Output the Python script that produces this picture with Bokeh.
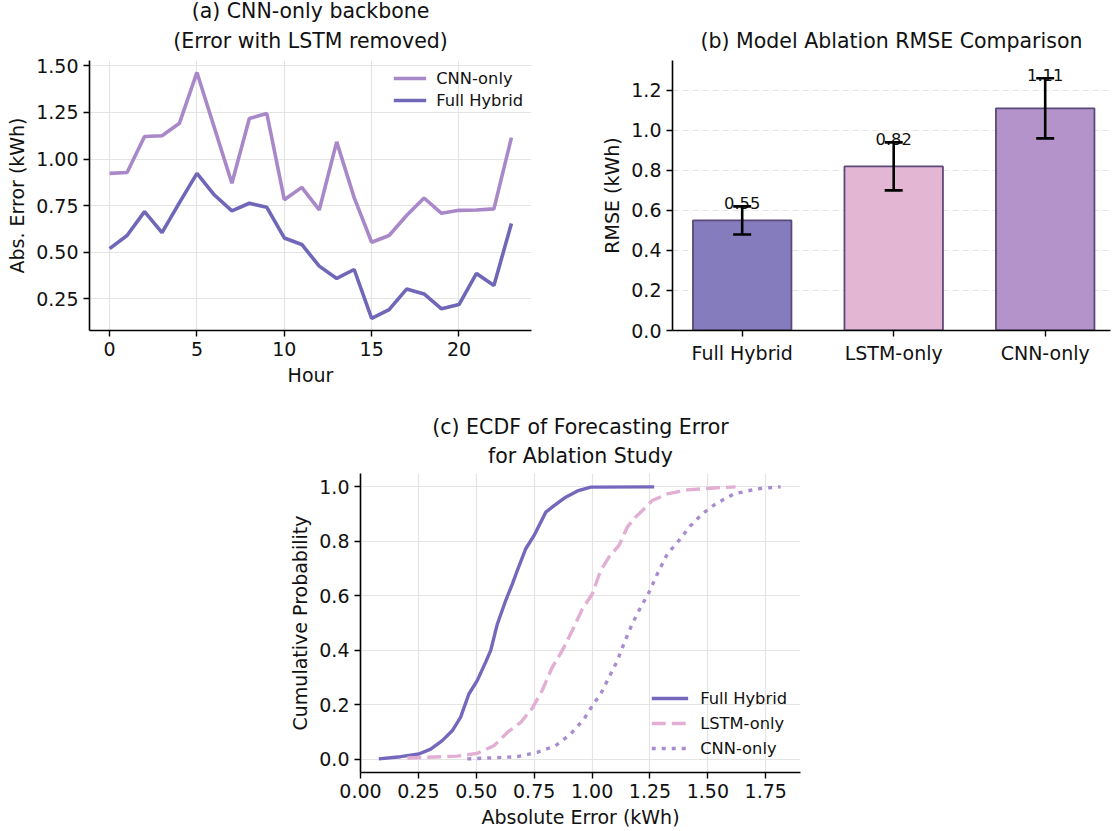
from bokeh.plotting import figure
from bokeh.layouts import column, row
from bokeh.models import (Range1d, FixedTicker, PrintfTickFormatter, ColumnDataSource,
                          Whisker, TeeHead, Title)
from bokeh.embed import file_html
from bokeh.resources import INLINE
from bokeh.core.properties import value

FONT = "DejaVu Sans"
TXT = "#111111"

# ---------------- data ----------------
hours = list(range(24))
cnn_only_err = [0.923, 0.928, 1.121, 1.125, 1.192, 1.464, 1.167, 0.870, 1.217, 1.244,
                0.782, 0.848, 0.727, 1.092, 0.793, 0.554, 0.590, 0.697, 0.791, 0.709,
                0.725, 0.727, 0.733, 1.115]
full_hybrid_err = [0.520, 0.590, 0.718, 0.606, 0.766, 0.923, 0.807, 0.722, 0.763, 0.741,
                   0.577, 0.542, 0.426, 0.360, 0.408, 0.146, 0.193, 0.303, 0.277, 0.197,
                   0.220, 0.387, 0.322, 0.655]

models = ["Full Hybrid", "LSTM-only", "CNN-only"]
rmse = [0.55, 0.82, 1.11]
rmse_err = [0.07, 0.12, 0.15]

ecdf_full_x = [0.079, 0.173, 0.252, 0.303, 0.353, 0.396, 0.432, 0.468, 0.504, 0.540,
               0.562, 0.591, 0.627, 0.656, 0.677, 0.713, 0.749, 0.800, 0.836, 0.886,
               0.937, 0.994, 1.268]
ecdf_full_y = [0.002, 0.010, 0.020, 0.038, 0.069, 0.105, 0.154, 0.240, 0.289, 0.356,
               0.399, 0.497, 0.583, 0.644, 0.693, 0.772, 0.821, 0.907, 0.931, 0.962,
               0.985, 0.999, 1.0]
ecdf_lstm_x = [0.202, 0.418, 0.504, 0.576, 0.634, 0.692, 0.742, 0.784, 0.828, 0.871,
               0.914, 0.958, 1.001, 1.037, 1.073, 1.116, 1.152, 1.188, 1.224, 1.260,
               1.325, 1.411, 1.527, 1.620]
ecdf_lstm_y = [0.005, 0.012, 0.022, 0.050, 0.099, 0.136, 0.188, 0.252, 0.338, 0.399,
               0.472, 0.552, 0.607, 0.693, 0.742, 0.785, 0.852, 0.889, 0.919, 0.950,
               0.974, 0.989, 0.996, 1.0]
ecdf_cnn_x = [0.461, 0.547, 0.677, 0.763, 0.842, 0.907, 0.965, 1.001, 1.037, 1.073,
              1.109, 1.137, 1.173, 1.210, 1.246, 1.282, 1.325, 1.375, 1.426, 1.476,
              1.534, 1.613, 1.714, 1.814]
ecdf_cnn_y = [0.002, 0.005, 0.010, 0.026, 0.050, 0.093, 0.148, 0.197, 0.240, 0.301,
              0.362, 0.424, 0.497, 0.558, 0.613, 0.681, 0.754, 0.803, 0.858, 0.901,
              0.938, 0.974, 0.993, 1.0]

C_FULL = "#7067b9"
C_CNN = "#a988c9"
C_LSTM = "#e2aed3"
BAR_COLORS = ["#857cbe", "#e3b6d4", "#b493cb"]


def add_titles(p, lines, standoff=15, gap=-7, size="20.5px"):
    # lines listed top to bottom; the first added sits nearest the frame
    for i, t in enumerate(reversed(lines)):
        p.add_layout(Title(text=t, align="center", text_font=FONT, text_font_style="normal",
                           text_font_size=size, text_color=TXT,
                           standoff=standoff if i == 0 else gap), "above")


def style(p):
    p.outline_line_color = None
    for ax in p.axis:
        ax.axis_line_color = "black"
        ax.axis_line_width = 1.6
        ax.major_tick_line_color = "black"
        ax.major_tick_line_width = 1.4
        ax.major_tick_out = 6
        ax.major_tick_in = 0
        ax.minor_tick_line_color = None
        ax.major_label_text_font = FONT
        ax.major_label_text_font_size = "19px"
        ax.major_label_text_color = TXT
        ax.axis_label_text_font = FONT
        ax.axis_label_text_font_size = "19px"
        ax.axis_label_text_font_style = "normal"
        ax.axis_label_text_color = TXT


# ---------------- panel (a) ----------------
pa = figure(width=545, height=400, output_backend="svg", toolbar_location=None,
            x_range=Range1d(-1.15, 24.15), y_range=Range1d(0.081, 1.528),
            min_border_left=89, min_border_right=14, min_border_top=59, min_border_bottom=70)
add_titles(pa, ["(a) CNN-only backbone", "(Error with LSTM removed)"])
pa.line(hours, cnn_only_err, color=C_CNN, line_width=3.6, legend_label="CNN-only")
pa.line(hours, full_hybrid_err, color=C_FULL, line_width=3.6, legend_label="Full Hybrid")
pa.xaxis.ticker = FixedTicker(ticks=[0, 5, 10, 15, 20])
pa.yaxis.ticker = FixedTicker(ticks=[0.25, 0.5, 0.75, 1.0, 1.25, 1.5])
pa.yaxis.formatter = PrintfTickFormatter(format="%.2f")
pa.xaxis.axis_label = "Hour"
pa.yaxis.axis_label = "Abs. Error (kWh)"
pa.grid.grid_line_color = "#e4e4e4"
pa.grid.grid_line_width = 1.2
style(pa)
pa.legend.location = "top_right"
pa.legend.border_line_alpha = 0
pa.legend.background_fill_alpha = 0
pa.legend.label_text_font = FONT
pa.legend.label_text_font_size = "16.3px"
pa.legend.label_text_color = TXT
pa.legend.glyph_width = 33
pa.legend.glyph_height = 20
pa.legend.label_height = 20
pa.legend.spacing = 2
pa.legend.label_standoff = 10
pa.legend.padding = 4
pa.legend.margin = 4

# ---------------- panel (b) ----------------
xb = list(range(len(models)))
src_b = ColumnDataSource(dict(
    x=xb, top=rmse, color=BAR_COLORS,
    upper=[r + e for r, e in zip(rmse, rmse_err)],
    lower=[r - e for r, e in zip(rmse, rmse_err)],
    label=[f"{r:.2f}" for r in rmse]))
pb = figure(width=568, height=400, output_backend="svg", toolbar_location=None,
            x_range=Range1d(-0.46, 2.431), y_range=Range1d(0, 1.349),
            min_border_left=127, min_border_right=3, min_border_top=59, min_border_bottom=70)
add_titles(pb, ["(b) Model Ablation RMSE Comparison"], standoff=16)
pb.vbar(x="x", top="top", width=0.65, bottom=0, source=src_b, fill_color="color",
        fill_alpha=1.0, line_color="#5a4a78", line_width=1.8)
pb.add_layout(Whisker(source=src_b, base="x", upper="upper", lower="lower",
                      line_color="black", line_width=2.6, level="annotation",
                      upper_head=TeeHead(size=18, line_width=2.6, line_color="black"),
                      lower_head=TeeHead(size=18, line_width=2.6, line_color="black")))
pb.text(x="x", y="upper", text="label", source=src_b, text_align="center",
        text_baseline="alphabetic", text_font=value(FONT), text_font_size="16.3px",
        text_color=TXT, y_offset=-3)
pb.xaxis.ticker = FixedTicker(ticks=xb)
pb.xaxis.major_label_overrides = {i: m for i, m in zip(xb, models)}
pb.yaxis.ticker = FixedTicker(ticks=[0.0, 0.2, 0.4, 0.6, 0.8, 1.0, 1.2])
pb.yaxis.formatter = PrintfTickFormatter(format="%.1f")
pb.yaxis.axis_label = "RMSE (kWh)"
pb.xgrid.grid_line_color = None
pb.ygrid.grid_line_color = "#e4e4e4"
pb.ygrid.grid_line_dash = "6 4"
pb.ygrid.grid_line_width = 1.2
style(pb)

# ---------------- panel (c) ----------------
pc = figure(width=830, height=431, output_backend="svg", toolbar_location=None,
            x_range=Range1d(0, 1.90), y_range=Range1d(-0.048, 1.049),
            min_border_left=360, min_border_right=30, min_border_top=73, min_border_bottom=59)
add_titles(pc, ["(c) ECDF of Forecasting Error", "for Ablation Study"], standoff=12)
pc.line(ecdf_full_x, ecdf_full_y, color="#7468bd", line_width=3.4, legend_label="Full Hybrid")
pc.line(ecdf_lstm_x, ecdf_lstm_y, color=C_LSTM, line_width=3.4, line_dash="14 6",
        legend_label="LSTM-only")
pc.line(ecdf_cnn_x, ecdf_cnn_y, color="#a98bd0", line_width=3.4, line_dash="4 6",
        legend_label="CNN-only")
pc.xaxis.ticker = FixedTicker(ticks=[0.0, 0.25, 0.5, 0.75, 1.0, 1.25, 1.5, 1.75])
pc.xaxis.formatter = PrintfTickFormatter(format="%.2f")
pc.yaxis.ticker = FixedTicker(ticks=[0.0, 0.2, 0.4, 0.6, 0.8, 1.0])
pc.yaxis.formatter = PrintfTickFormatter(format="%.1f")
pc.xaxis.axis_label = "Absolute Error (kWh)"
pc.yaxis.axis_label = "Cumulative Probability"
pc.grid.grid_line_color = "#e4e4e4"
pc.grid.grid_line_width = 1.2
style(pc)
pc.legend.location = "bottom_right"
pc.legend.border_line_alpha = 0
pc.legend.background_fill_alpha = 0
pc.legend.label_text_font = FONT
pc.legend.label_text_font_size = "16.3px"
pc.legend.label_text_color = TXT
pc.legend.glyph_width = 37
pc.legend.glyph_height = 22
pc.legend.label_height = 22
pc.legend.spacing = 3
pc.legend.label_standoff = 12
pc.legend.padding = 4
pc.legend.margin = 9

layout = column(row(pa, pb), pc)
open("out.html", "w").write(file_html(layout, INLINE))
